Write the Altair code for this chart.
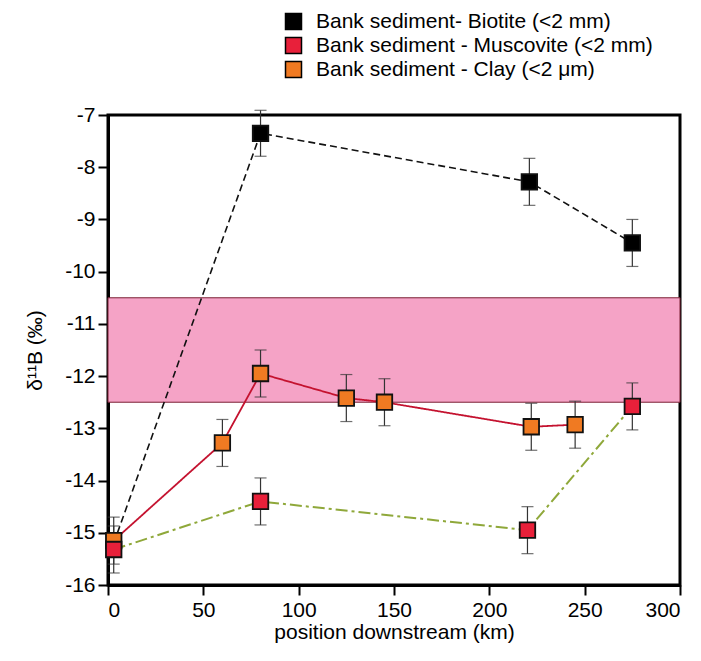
import altair as alt
import pandas as pd

# ---- data ----
series_names = [
    "Bank sediment- Biotite (<2 mm)",
    "Bank sediment - Muscovite (<2 mm)",
    "Bank sediment - Clay (<2 μm)",
]
series_colors = ["#000000", "#e8203a", "#f07a22"]

bio_x = [80, 221, 275]
bio_y = [-7.35, -8.28, -9.45]
bio_err = [0.44, 0.45, 0.45]

musc_x = [3, 80, 220, 275]
musc_y = [-15.32, -14.40, -14.95, -12.58]
musc_err = [0.45, 0.45, 0.45, 0.45]

clay_x = [3, 60, 80, 125, 145, 222, 245]
clay_y = [-15.15, -13.28, -11.95, -12.42, -12.50, -12.97, -12.93]
clay_err = [0.45, 0.45, 0.45, 0.45, 0.45, 0.45, 0.45]

# connecting lines
bio_line_x = [3, 80, 221, 275]
bio_line_y = [-15.20, -7.35, -8.28, -9.45]
musc_line_x = musc_x
musc_line_y = musc_y
clay_line_x = clay_x
clay_line_y = clay_y

band_lo = -12.5
band_hi = -10.5

x_ticks = [0, 50, 100, 150, 200, 250, 300]
y_ticks = [-16, -15, -14, -13, -12, -11, -10, -9, -8, -7]

# ---- tables ----
rows = []
for name, xs, ys, es in [
    (series_names[2], clay_x, clay_y, clay_err),
    (series_names[1], musc_x, musc_y, musc_err),
    (series_names[0], bio_x, bio_y, bio_err),
]:
    for i, (x, y, e) in enumerate(zip(xs, ys, es)):
        rows.append({"series": name, "x": x, "y": y, "lo": y - e, "hi": y + e, "order": len(rows)})
pts = pd.DataFrame(rows)

line_rows = []
for key, xs, ys in [("bio", bio_line_x, bio_line_y), ("musc", musc_line_x, musc_line_y), ("clay", clay_line_x, clay_line_y)]:
    for i, (x, y) in enumerate(zip(xs, ys)):
        line_rows.append({"line": key, "x": x, "y": y, "i": i})
lines = pd.DataFrame(line_rows)

band = pd.DataFrame({"x": [0], "x2": [300], "y": [band_hi], "y2": [band_lo]})

FONT = "Liberation Sans"
FS = 21

xscale = alt.Scale(domain=[0, 300], nice=False, zero=False)
yscale = alt.Scale(domain=[-16, -7], nice=False, zero=False)

xaxis = alt.Axis(values=x_ticks, title="position downstream (km)", grid=False,
                 labelExpr="toString(datum.value)",
                 labelFontSize=FS, titleFontSize=FS, titleFontWeight="normal",
                 labelFont=FONT, titleFont=FONT, labelColor="black", titleColor="black",
                 tickSize=10, tickWidth=2, tickColor="black", domainColor="black", domainWidth=3,
                 labelPadding=4, titlePadding=1)
yaxis = alt.Axis(values=y_ticks, title="δ¹¹B (‰)", grid=False,
                 labelExpr="toString(datum.value)",
                 labelFontSize=FS, titleFontSize=FS, titleFontWeight="normal",
                 labelFont=FONT, titleFont=FONT, labelColor="black", titleColor="black",
                 tickSize=10, tickWidth=2, tickColor="black", domainColor="black", domainWidth=3,
                 labelPadding=3, titleX=-63)

band_layer = alt.Chart(band).mark_rect(fill="#f5a3c6", stroke="#7a2035", strokeWidth=1).encode(
    x=alt.X("x:Q", scale=xscale, axis=xaxis),
    x2="x2:Q",
    y=alt.Y("y:Q", scale=yscale, axis=yaxis),
    y2="y2:Q",
)

def line_layer(key, color, dash, width=1.6):
    return alt.Chart(lines).transform_filter(alt.datum.line == key).mark_line(
        color=color, strokeDash=dash, strokeWidth=width
    ).encode(
        x=alt.X("x:Q", scale=xscale),
        y=alt.Y("y:Q", scale=yscale),
        order="i:Q",
    )

bio_line = line_layer("bio", "#111111", [7, 4])
musc_line = line_layer("musc", "#8fa83a", [12, 4, 3, 4], 2)
clay_line = line_layer("clay", "#c4122f", [1, 0], 1.8)

err_rule = alt.Chart(pts).mark_rule(color="#333333", strokeWidth=1.2).encode(
    x=alt.X("x:Q", scale=xscale),
    y=alt.Y("lo:Q", scale=yscale),
    y2="hi:Q",
)
cap_lo = alt.Chart(pts).mark_tick(color="#333333", thickness=1.2, size=12, orient="horizontal").encode(
    x=alt.X("x:Q", scale=xscale),
    y=alt.Y("lo:Q", scale=yscale),
)
cap_hi = alt.Chart(pts).mark_tick(color="#333333", thickness=1.2, size=12, orient="horizontal").encode(
    x=alt.X("x:Q", scale=xscale),
    y=alt.Y("hi:Q", scale=yscale),
)

markers = alt.Chart(pts).mark_point(shape="square", filled=True, size=240, stroke="#111111",
                                    strokeWidth=1.8, opacity=1).encode(
    x=alt.X("x:Q", scale=xscale),
    y=alt.Y("y:Q", scale=yscale),
    order="order:Q",
    color=alt.Color("series:N", scale=alt.Scale(domain=series_names, range=series_colors),
                    legend=alt.Legend(title=None, orient="none", legendX=175, legendY=-104,
                                      symbolType="square", symbolSize=256, symbolStrokeColor="black",
                                      symbolStrokeWidth=1.5, symbolOpacity=1,
                                      labelFontSize=FS, labelFont=FONT, labelColor="black",
                                      labelOffset=12, rowPadding=1, padding=0,
                                      labelLimit=500)),
)

chart = alt.layer(band_layer, bio_line, musc_line, clay_line, err_rule, cap_lo, cap_hi, markers).properties(
    width=572, height=470,
    autosize=alt.AutoSizeParams(type="none"),
    padding={"left": 100, "top": 107, "right": 13, "bottom": 68},
).configure(
    background="white",
    view=alt.ViewConfig(stroke="black", strokeWidth=3),
)

chart.save("out.html", embed_options={"renderer": "svg", "actions": False})
